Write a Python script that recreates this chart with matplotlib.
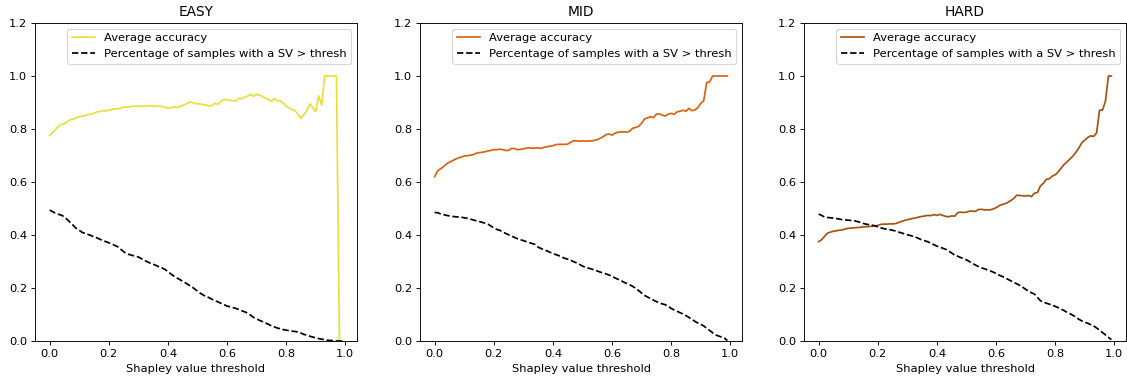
import numpy as np
import matplotlib
matplotlib.use("Agg")
import matplotlib.pyplot as plt

# threshold grid 0.00 .. 0.99
thresholds = np.arange(100) / 100

titles = ["EASY", "MID", "HARD"]
colors = ["#e8e03a", "#d9620f", "#a8520f"]

easy_acc = [
    0.775, 0.787, 0.798, 0.810, 0.818, 0.820, 0.828, 0.836, 0.837, 0.843,
    0.847, 0.849, 0.850, 0.855, 0.856, 0.860, 0.864, 0.866, 0.870, 0.868,
    0.871, 0.874, 0.876, 0.876, 0.878, 0.883, 0.882, 0.884, 0.886, 0.886,
    0.886, 0.887, 0.886, 0.887, 0.888, 0.887, 0.886, 0.886, 0.885, 0.883,
    0.878, 0.880, 0.884, 0.881, 0.884, 0.889, 0.893, 0.900, 0.902, 0.895,
    0.896, 0.894, 0.892, 0.890, 0.887, 0.889, 0.897, 0.893, 0.905, 0.912,
    0.909, 0.908, 0.907, 0.906, 0.916, 0.914, 0.920, 0.925, 0.931, 0.923,
    0.931, 0.928, 0.922, 0.917, 0.911, 0.904, 0.915, 0.907, 0.906, 0.898,
    0.886, 0.880, 0.873, 0.870, 0.855, 0.840, 0.855, 0.870, 0.895, 0.880,
    0.866, 0.925, 0.890, 1.000, 1.000, 1.000, 1.000, 1.000, 0.000, 0.000,
]
easy_pct = [
    0.494, 0.488, 0.482, 0.478, 0.475, 0.468, 0.458, 0.447, 0.436, 0.425,
    0.418, 0.410, 0.406, 0.402, 0.398, 0.393, 0.389, 0.384, 0.379, 0.375,
    0.371, 0.366, 0.361, 0.356, 0.347, 0.337, 0.330, 0.326, 0.323, 0.320,
    0.317, 0.311, 0.305, 0.299, 0.294, 0.290, 0.285, 0.280, 0.276, 0.270,
    0.262, 0.253, 0.245, 0.238, 0.232, 0.225, 0.219, 0.212, 0.205, 0.197,
    0.188, 0.180, 0.173, 0.168, 0.163, 0.157, 0.152, 0.147, 0.142, 0.137,
    0.132, 0.129, 0.126, 0.123, 0.119, 0.114, 0.110, 0.105, 0.097, 0.089,
    0.083, 0.078, 0.073, 0.068, 0.063, 0.057, 0.053, 0.049, 0.046, 0.043,
    0.041, 0.039, 0.037, 0.036, 0.034, 0.030, 0.025, 0.022, 0.018, 0.015,
    0.012, 0.009, 0.007, 0.005, 0.003, 0.002, 0.001, 0.000, 0.000, 0.000,
]

mid_acc = [
    0.620, 0.642, 0.650, 0.658, 0.668, 0.675, 0.680, 0.686, 0.691, 0.694,
    0.698, 0.699, 0.701, 0.703, 0.708, 0.711, 0.712, 0.714, 0.717, 0.719,
    0.722, 0.722, 0.724, 0.722, 0.719, 0.719, 0.727, 0.726, 0.722, 0.723,
    0.725, 0.728, 0.729, 0.727, 0.728, 0.729, 0.727, 0.731, 0.733, 0.735,
    0.737, 0.741, 0.742, 0.742, 0.742, 0.743, 0.750, 0.756, 0.755, 0.754,
    0.755, 0.754, 0.755, 0.755, 0.757, 0.760, 0.765, 0.771, 0.779, 0.781,
    0.777, 0.784, 0.788, 0.789, 0.789, 0.788, 0.792, 0.803, 0.806, 0.810,
    0.822, 0.838, 0.842, 0.846, 0.843, 0.856, 0.857, 0.852, 0.849, 0.856,
    0.859, 0.855, 0.865, 0.867, 0.871, 0.867, 0.878, 0.869, 0.872, 0.880,
    0.897, 0.907, 0.975, 0.978, 1.000, 1.000, 1.000, 1.000, 1.000, 1.000,
]
mid_pct = [
    0.485, 0.484, 0.480, 0.477, 0.474, 0.472, 0.470, 0.469, 0.468, 0.467,
    0.465, 0.463, 0.460, 0.457, 0.454, 0.451, 0.448, 0.445, 0.441, 0.434,
    0.427, 0.421, 0.418, 0.412, 0.406, 0.401, 0.396, 0.391, 0.386, 0.382,
    0.379, 0.375, 0.371, 0.368, 0.364, 0.354, 0.349, 0.344, 0.340, 0.335,
    0.330, 0.326, 0.322, 0.317, 0.312, 0.309, 0.305, 0.299, 0.295, 0.289,
    0.283, 0.278, 0.275, 0.272, 0.268, 0.264, 0.260, 0.257, 0.253, 0.249,
    0.244, 0.238, 0.233, 0.228, 0.222, 0.217, 0.212, 0.206, 0.199, 0.190,
    0.181, 0.172, 0.166, 0.160, 0.154, 0.149, 0.144, 0.140, 0.137, 0.131,
    0.123, 0.117, 0.112, 0.107, 0.102, 0.096, 0.089, 0.083, 0.074, 0.068,
    0.063, 0.057, 0.048, 0.040, 0.031, 0.023, 0.019, 0.015, 0.011, 0.002,
]

hard_acc = [
    0.375, 0.382, 0.395, 0.407, 0.411, 0.414, 0.416, 0.418, 0.419, 0.423,
    0.425, 0.426, 0.427, 0.428, 0.429, 0.431, 0.431, 0.432, 0.433, 0.434,
    0.436, 0.440, 0.441, 0.441, 0.442, 0.442, 0.443, 0.447, 0.451, 0.455,
    0.458, 0.460, 0.463, 0.465, 0.468, 0.470, 0.472, 0.474, 0.473, 0.477,
    0.474, 0.478, 0.474, 0.470, 0.469, 0.472, 0.471, 0.484, 0.486, 0.485,
    0.486, 0.490, 0.490, 0.489, 0.496, 0.497, 0.495, 0.495, 0.495, 0.498,
    0.503, 0.510, 0.515, 0.518, 0.523, 0.530, 0.538, 0.550, 0.549, 0.548,
    0.547, 0.549, 0.545, 0.558, 0.560, 0.585, 0.595, 0.610, 0.612, 0.622,
    0.627, 0.638, 0.652, 0.666, 0.676, 0.687, 0.698, 0.712, 0.728, 0.748,
    0.758, 0.768, 0.774, 0.772, 0.785, 0.871, 0.871, 0.905, 1.000, 1.000,
]
hard_pct = [
    0.479, 0.474, 0.468, 0.466, 0.465, 0.464, 0.462, 0.460, 0.458, 0.457,
    0.456, 0.455, 0.454, 0.451, 0.448, 0.444, 0.441, 0.439, 0.437, 0.435,
    0.431, 0.427, 0.424, 0.422, 0.420, 0.418, 0.415, 0.411, 0.408, 0.404,
    0.401, 0.398, 0.395, 0.391, 0.386, 0.381, 0.378, 0.374, 0.369, 0.363,
    0.358, 0.354, 0.350, 0.346, 0.339, 0.332, 0.324, 0.320, 0.315, 0.311,
    0.306, 0.300, 0.293, 0.287, 0.281, 0.276, 0.273, 0.269, 0.265, 0.260,
    0.255, 0.249, 0.244, 0.239, 0.233, 0.227, 0.221, 0.216, 0.210, 0.203,
    0.195, 0.188, 0.182, 0.177, 0.165, 0.152, 0.146, 0.143, 0.139, 0.135,
    0.131, 0.126, 0.120, 0.115, 0.108, 0.103, 0.097, 0.090, 0.082, 0.076,
    0.071, 0.067, 0.062, 0.057, 0.049, 0.041, 0.032, 0.023, 0.014, 0.005,
]

accs = [easy_acc, mid_acc, hard_acc]
pcts = [easy_pct, mid_pct, hard_pct]

# reference looks like a default-styled figure shrunk a bit, so render at a lower dpi
dpi = 82.5
fig = plt.figure(figsize=(1127 / dpi, 379 / dpi), dpi=dpi)
lefts = [35, 420, 804]
for i in range(3):
    ax = fig.add_axes([lefts[i] / 1127, 38 / 379, 322 / 1127, 318 / 379])
    ax.plot(thresholds, accs[i], color=colors[i], label="Average accuracy")
    ax.plot(thresholds, pcts[i], "k--", label="Percentage of samples with a SV > thresh")
    ax.set_ylim(0, 1.2)
    ax.set_xticks([0.0, 0.2, 0.4, 0.6, 0.8, 1.0])
    ax.set_title(titles[i])
    ax.set_xlabel("Shapley value threshold")
    ax.legend(loc="upper right")

fig.savefig("out.png", dpi=dpi)
